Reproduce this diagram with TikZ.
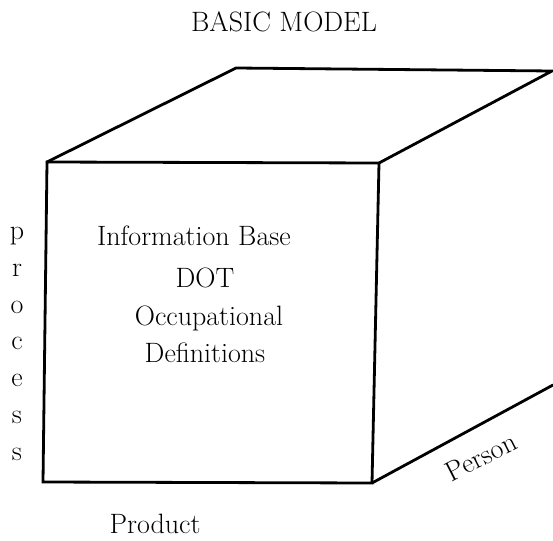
\documentclass[tikz,border=0pt]{standalone}
\usepackage{fontspec}
\begin{document}
\begin{tikzpicture}[x=1pt,y=-1pt,
  edge/.style={line width=2.8pt, line join=miter, line cap=round},
  lbl/.style={font=\fontsize{28}{32}\selectfont, inner sep=0pt, anchor=base}]
\useasboundingbox (0,0) rectangle (553,540);
% corners of the block
\coordinate (ftl) at (47,162);
\coordinate (ftr) at (379,163);
\coordinate (fbr) at (372,483);
\coordinate (fbl) at (43,482);
\coordinate (btl) at (236,68);
\coordinate (btr) at (552,71);
\coordinate (bex) at (553,385);
% front face
\draw[edge] (ftl) -- (ftr) -- (fbr) -- (fbl) -- cycle;
% top face
\draw[edge] (ftl) -- (btl) -- (btr) -- (ftr);
% lower right edge running off the page
\draw[edge] (fbr) -- (bex);
% labels
\node[lbl] (title) at (284,32) {BASIC MODEL};
\node[lbl] (info) at (194,245) {Information Base};
\node[lbl] (dot) at (205,287) {DOT};
\node[lbl] (occ) at (209,325) {Occupational};
\node[lbl] (def) at (205,362) {Definitions};
% the word "process", one letter per line
\node[lbl] (p1) at (17,239) {p};
\node[lbl] (p2) at (17,276) {r};
\node[lbl] (p3) at (17,313) {o};
\node[lbl] (p4) at (17,349) {c};
\node[lbl] (p5) at (17,386) {e};
\node[lbl] (p6) at (17,423) {s};
\node[lbl] (p7) at (17,460) {s};
\node[lbl] (prod) at (155,533) {Product};
\node[lbl, anchor=center, rotate=27] (pers) at (481,457) {Person};
\end{tikzpicture}
\end{document}
